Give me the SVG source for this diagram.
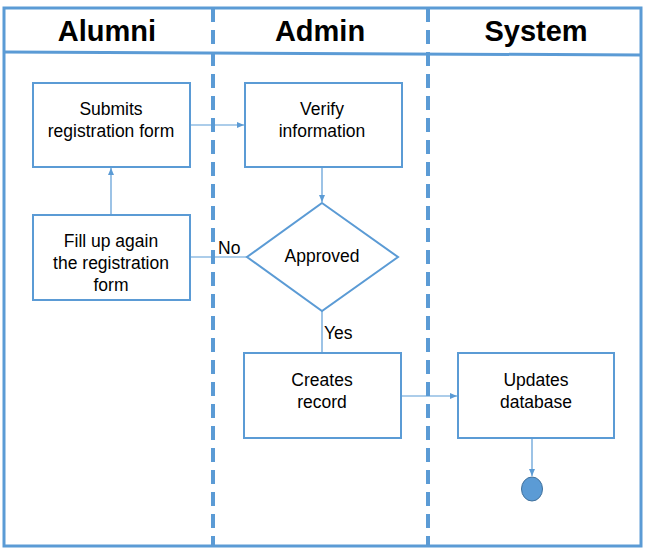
<svg xmlns="http://www.w3.org/2000/svg" width="646" height="549" viewBox="0 0 646 549">
<defs>
<style>
.box{fill:#fff;stroke:#5B9BD5;stroke-width:2}
.lane{stroke:#5B9BD5;stroke-width:4;stroke-dasharray:14 8;fill:none}
.frame{fill:none;stroke:#5B9BD5;stroke-width:3}
.con{stroke:#5B9BD5;stroke-width:1.2;fill:none}
.t{font-family:"Liberation Sans",Arial,sans-serif;font-size:17.5px;fill:#000;text-anchor:middle}
.h{font-family:"Liberation Sans",Arial,sans-serif;font-size:29px;font-weight:bold;fill:#000;text-anchor:middle}
.lbl{font-family:"Liberation Sans",Arial,sans-serif;font-size:17.5px;fill:#000}
</style>
<marker id="arr" markerWidth="8" markerHeight="8" refX="7" refY="4" orient="auto" markerUnits="userSpaceOnUse">
<path d="M0,1 L7,4 L0,7 Z" fill="#5B9BD5"/>
</marker>
</defs>
<rect width="646" height="549" fill="#fff"/>
<g id="frame">
<rect class="frame" x="4" y="8" width="637" height="538"/>
<line x1="4" y1="52" x2="641" y2="55" stroke="#5B9BD5" stroke-width="3"/>
<line class="lane" x1="213" y1="8" x2="213" y2="546"/>
<line class="lane" x1="428" y1="8" x2="428" y2="546"/>
</g>
<g id="headers">
<text class="h" x="107" y="41">Alumni</text>
<text class="h" x="320" y="41">Admin</text>
<text class="h" x="536" y="41">System</text>
</g>
<g id="connectors">
<line class="con" x1="190" y1="125" x2="244" y2="125" marker-end="url(#arr)"/>
<line class="con" x1="111" y1="215" x2="111" y2="168" marker-end="url(#arr)"/>
<line class="con" x1="322" y1="167" x2="322" y2="202" marker-end="url(#arr)"/>
<line class="con" x1="190" y1="257" x2="247" y2="257"/>
<line class="con" x1="322" y1="311" x2="322" y2="353"/>
<line class="con" x1="401" y1="396" x2="457" y2="396" marker-end="url(#arr)"/>
<line class="con" x1="532" y1="438" x2="532" y2="476" marker-end="url(#arr)"/>
<text class="lbl" x="218" y="254">No</text>
<text class="lbl" x="324" y="339">Yes</text>
</g>
<g id="submits">
<rect class="box" x="33" y="83" width="157" height="84"/>
<text class="t" x="111" y="115">Submits</text>
<text class="t" x="111" y="137">registration form</text>
</g>
<g id="verify">
<rect class="box" x="245" y="83" width="157" height="84"/>
<text class="t" x="322" y="115">Verify</text>
<text class="t" x="322" y="137">information</text>
</g>
<g id="fillup">
<rect class="box" x="33" y="215" width="157" height="85"/>
<text class="t" x="111" y="247">Fill up again</text>
<text class="t" x="111" y="269">the registration</text>
<text class="t" x="111" y="291">form</text>
</g>
<g id="approved">
<polygon class="box" points="322,203 398,257 322,311 247,257"/>
<text class="t" x="322" y="262">Approved</text>
</g>
<g id="creates">
<rect class="box" x="244" y="353" width="157" height="85"/>
<text class="t" x="322" y="386">Creates</text>
<text class="t" x="322" y="408">record</text>
</g>
<g id="updates">
<rect class="box" x="458" y="353" width="156" height="85"/>
<text class="t" x="536" y="386">Updates</text>
<text class="t" x="536" y="408">database</text>
</g>
<g id="end">
<ellipse cx="532" cy="489" rx="10.5" ry="12" fill="#5B9BD5" stroke="#41719C" stroke-width="1"/>
</g>
</svg>
